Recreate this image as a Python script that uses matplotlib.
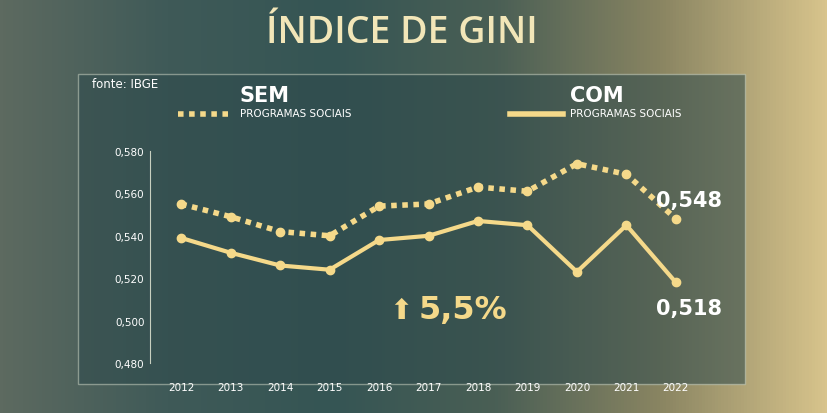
import numpy as np
import matplotlib.pyplot as plt
from matplotlib.colors import LinearSegmentedColormap

anos = [2012, 2013, 2014, 2015, 2016, 2017, 2018, 2019, 2020, 2021, 2022]
sem_programas = [0.555, 0.549, 0.542, 0.540, 0.554, 0.555, 0.563, 0.561, 0.574, 0.569, 0.548]
com_programas = [0.539, 0.532, 0.526, 0.524, 0.538, 0.540, 0.547, 0.545, 0.523, 0.545, 0.518]
y_ticks = [0.480, 0.500, 0.520, 0.540, 0.560, 0.580]
y_labels = ['0,480', '0,500', '0,520', '0,540', '0,560', '0,580']

amarelo = '#f5d98a'
fig = plt.figure(figsize=(8.28, 4.14), dpi=100)

# fundo em degradê
bg = fig.add_axes([0, 0, 1, 1])
grad = np.linspace(0, 1, 256)[None, :]
cmap_bg = LinearSegmentedColormap.from_list('bg', ['#5d6a60', '#3f5a58', '#355554', '#4a5f55', '#8a8562', '#d8c48c'])
bg.imshow(np.vstack([grad] * 10), aspect='auto', cmap=cmap_bg, extent=[0, 1, 0, 1])
bg.set_xlim(0, 1); bg.set_ylim(0, 1); bg.axis('off')
# painel
bg.add_patch(plt.Rectangle((78 / 828, 1 - 385 / 414), 667 / 828, 310 / 414,
                           facecolor='#2e4a4c', alpha=0.55, edgecolor='#c8d0c0', lw=1))
bg.text(0.485, 1 - 33 / 414, 'ÍNDICE DE GINI', color='#f2e6b8', fontsize=27,
        ha='center', va='center', family='Open Sans', fontweight='semibold')
bg.text(92 / 828, 1 - 84 / 414, 'fonte: IBGE', color='white', fontsize=8.5, va='center')

# legenda manual
bg.text(240 / 828, 1 - 96 / 414, 'SEM', color='white', fontsize=15, fontweight='bold', va='center')
bg.text(240 / 828, 1 - 114 / 414, 'PROGRAMAS SOCIAIS', color='white', fontsize=7.5, va='center')
bg.plot([178 / 828, 232 / 828], [1 - 115 / 414] * 2, color=amarelo, lw=4, ls=(0, (1, 1)))
bg.text(570 / 828, 1 - 96 / 414, 'COM', color='white', fontsize=15, fontweight='bold', va='center')
bg.text(570 / 828, 1 - 114 / 414, 'PROGRAMAS SOCIAIS', color='white', fontsize=7.5, va='center')
bg.plot([510 / 828, 563 / 828], [1 - 115 / 414] * 2, color=amarelo, lw=4)

ax = fig.add_axes([150 / 828, 1 - 364 / 414, 560 / 828, 212 / 414])
ax.patch.set_alpha(0)
ax.plot(anos, sem_programas, color=amarelo, lw=4, ls=(0, (1, 1)),
        marker='o', ms=6, markevery=1)
ax.plot(anos, com_programas, color=amarelo, lw=3, marker='o', ms=6)
ax.set_ylim(0.480, 0.580)
ax.set_xlim(2011.37, 2022.69)
ax.set_yticks(y_ticks)
ax.set_yticklabels(y_labels)
ax.set_xticks(anos)
ax.tick_params(colors='white', labelsize=7.5, length=0)
ax.tick_params(axis='x', pad=14)
ax.tick_params(axis='y', pad=4)
for s in ax.spines.values():
    s.set_visible(False)
ax.spines['left'].set_visible(True)
ax.spines['left'].set_color('#c8d0c0')

ax.text(2021.6, sem_programas[-1] + 0.009, '0,548', color='white', fontsize=15, fontweight='bold', va='center')
ax.text(2021.6, com_programas[-1] - 0.012, '0,518', color='white', fontsize=15, fontweight='bold', va='center')
ax.text(2016.45, 0.505, '\u2b06', color=amarelo, fontsize=20, va='center', ha='center', family='DejaVu Sans')
ax.text(2016.8, 0.505, '5,5%', color=amarelo, fontsize=23, fontweight='bold', va='center')

fig.savefig('out.png', dpi=100)
